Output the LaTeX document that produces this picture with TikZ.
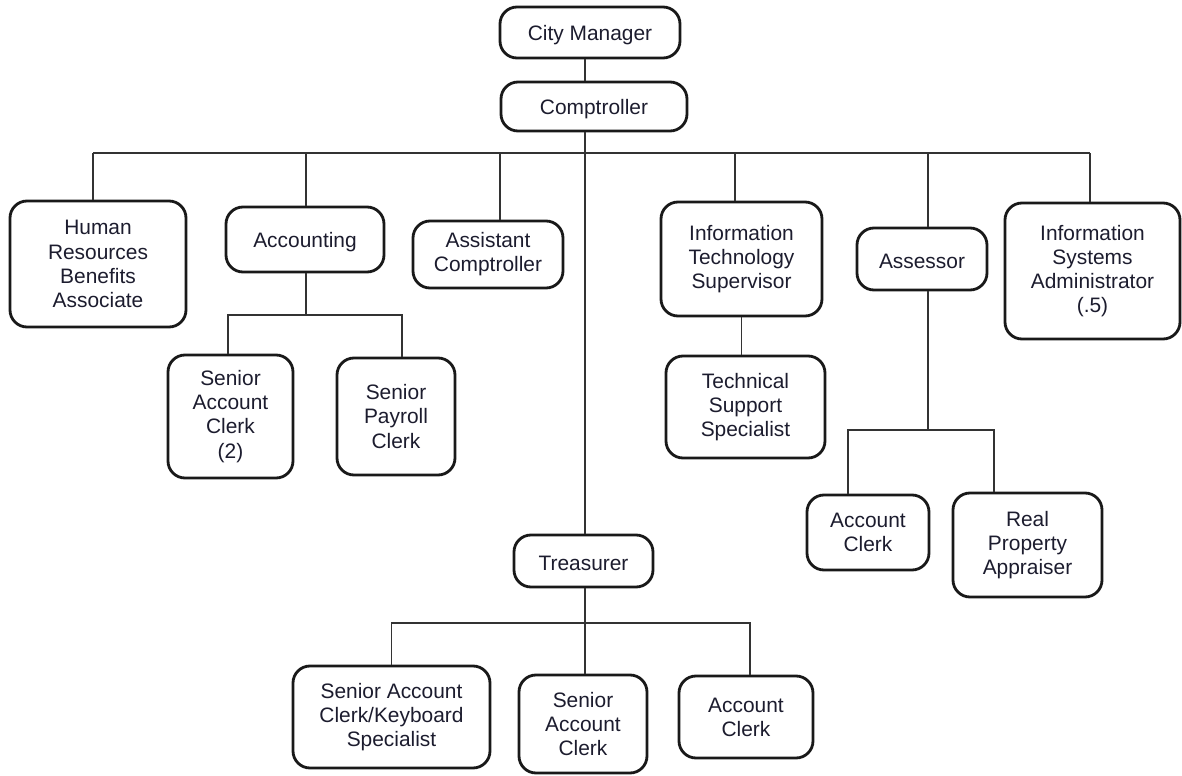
\documentclass[tikz,border=0pt]{standalone}
\usepackage{fontspec}
\setmainfont{Liberation Sans}
\definecolor{labelink}{RGB}{28,28,46}
\begin{document}
\begin{tikzpicture}[x=0.2mm,y=-0.2mm,
  box/.style={draw=black!90, line width=1.6pt, rounded corners=3.4mm, fill=white,
    align=center, inner sep=0pt, text=labelink,
    font=\fontsize{11.9}{13.7}\selectfont,
    execute at begin node={\rule{0pt}{11.4pt}}},
  link/.style={draw=black!80, line width=0.9pt}]
\useasboundingbox (0,0) rectangle (1182,776);

% --- top of the chart
\node[box, minimum width=36mm, minimum height=10.2mm] (cm) at (590,32.5) {City Manager};
\node[box, minimum width=37.2mm, minimum height=9.8mm] (comp) at (594,106.5) {Comptroller};

% --- first level under the comptroller
\node[box, minimum width=35.2mm, minimum height=25.2mm] (hr) at (98,264) {Human\\Resources\\Benefits\\Associate};
\node[box, minimum width=31.6mm, minimum height=13mm] (acc) at (305,239.5) {Accounting};
\node[box, minimum width=30mm, minimum height=13.4mm] (asst) at (488,254.5) {Assistant\\Comptroller};
\node[box, minimum width=32.2mm, minimum height=22.8mm] (its) at (741.5,259) {Information\\Technology\\Supervisor};
\node[box, minimum width=26mm, minimum height=12.4mm] (ass) at (922,259) {Assessor};
\node[box, minimum width=35mm, minimum height=27.2mm] (isa) at (1092.5,271) {Information\\Systems\\Administrator\\(.5)};

% --- staff under accounting, IT and the assessor
\node[box, minimum width=25mm, minimum height=24.6mm] (sac2) at (230.5,416.5) {Senior\\Account\\Clerk\\(2)};
\node[box, minimum width=23.6mm, minimum height=23.4mm] (spc) at (396,416.5) {Senior\\Payroll\\Clerk};
\node[box, minimum width=31.8mm, minimum height=20.4mm] (tss) at (745.5,407) {Technical\\Support\\Specialist};
\node[box, minimum width=24.4mm, minimum height=15mm] (ac1) at (868,532.5) {Account\\Clerk};
\node[box, minimum width=29.8mm, minimum height=20.8mm] (rpa) at (1027.5,545) {Real\\Property\\Appraiser};

% --- treasurer and staff
\node[box, minimum width=27.8mm, minimum height=10.4mm] (tr) at (583.5,561) {Treasurer};
\node[box, minimum width=39.4mm, minimum height=20.4mm] (sack) at (391.5,717) {Senior Account\\Clerk/Keyboard\\Specialist};
\node[box, minimum width=25.6mm, minimum height=19.6mm] (sac) at (583,724) {Senior\\Account\\Clerk};
\node[box, minimum width=26.8mm, minimum height=16.4mm] (ac2) at (746,717) {Account\\Clerk};

% --- bus and bar levels
\coordinate (busL) at (93,153);
\coordinate (busR) at (1090,153);
\coordinate (accBar) at (0,315);
\coordinate (assBar) at (0,430);
\coordinate (trBar) at (0,623);

% --- connectors
\draw[link] ([xshift=-1mm]cm.south) -- ([xshift=-1mm]cm.south |- comp.north);
\draw[link] ([xshift=0.3mm]tr.north |- comp.south) -- ([xshift=0.3mm]tr.north);
\draw[link] (busL) -- (busR);
\draw[link] ([xshift=-1mm]hr.north) -- ([xshift=-1mm]hr.north |- busL);
\draw[link] ([xshift=0.2mm]acc.north) -- ([xshift=0.2mm]acc.north |- busL);
\draw[link] ([xshift=2.4mm]asst.north) -- ([xshift=2.4mm]asst.north |- busL);
\draw[link] ([xshift=-1.3mm]its.north) -- ([xshift=-1.3mm]its.north |- busL);
\draw[link] ([xshift=1.2mm]ass.north) -- ([xshift=1.2mm]ass.north |- busL);
\draw[link] ([xshift=-0.5mm]isa.north) -- ([xshift=-0.5mm]isa.north |- busL);

% accounting
\draw[link] ([xshift=0.2mm]acc.south) -- ([xshift=0.2mm]acc.south |- accBar);
\draw[link] ([xshift=-0.5mm]sac2.north) -- ([xshift=-0.5mm]sac2.north |- accBar)
  -- ([xshift=1.2mm]spc.north |- accBar) -- ([xshift=1.2mm]spc.north);

% information technology
\draw[link] (its.south) -- (its.south |- tss.north);

% assessor
\draw[link] ([xshift=1.2mm]ass.south) -- ([xshift=1.2mm]ass.south |- assBar);
\draw[link] ([xshift=-4mm]ac1.north) -- ([xshift=-4mm]ac1.north |- assBar)
  -- ([xshift=-6.7mm]rpa.north |- assBar) -- ([xshift=-6.7mm]rpa.north);

% treasurer
\draw[link] ([xshift=0.3mm]tr.south) -- ([xshift=0.3mm]tr.south |- sac.north);
\draw[link] (sack.north) -- (sack.north |- trBar)
  -- ([xshift=0.8mm]ac2.north |- trBar) -- ([xshift=0.8mm]ac2.north);
\end{tikzpicture}
\end{document}
